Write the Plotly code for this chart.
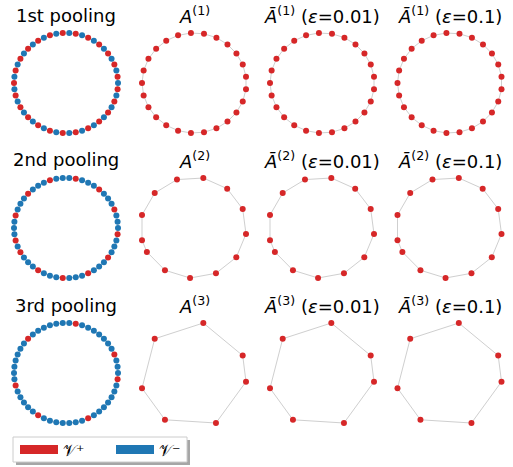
import numpy as np
import plotly.graph_objects as go

# ---------------- data ----------------
N_NODES = 50
row_titles = ["1st pooling", "2nd pooling", "3rd pooling"]
kept_nodes = [
    list(range(1, 50, 2)),                                   # level 1: 25 nodes
    [3, 7, 11, 15, 19, 23, 27, 29, 33, 37, 41, 45, 49],      # level 2: 13 nodes
    [3, 11, 19, 27, 33, 41, 49],                             # level 3: 7 nodes
]
col_titles = [
    "<i>A</i><sup>({k})</sup>",
    "<i>Ā</i><sup>({k})</sup> (<i>ε</i>=0.01)",
    "<i>Ā</i><sup>({k})</sup> (<i>ε</i>=0.1)",
]
legend_labels = ["𝒱⁺", "𝒱⁻"]

RED = "#d62728"
BLUE = "#1f77b4"
EDGE = "#cfcfcf"

W, H = 513, 467
col_cx = [66, 194, 322, 449.5]
row_cy = [83, 228, 373]
DOM_W, DOM_H = 124, 118      # axis box in px
SPAN_W, SPAN_H = 104, 100    # px spanned by node extents

ang = 2 * np.pi * np.arange(N_NODES) / N_NODES
pos_x = np.cos(ang)
pos_y = np.sin(ang)

fig = go.Figure()
annotations = []
shapes = []
axis_id = 0


def add_panel(xs, ys, colors, cx, cy):
    global axis_id
    axis_id += 1
    sfx = "" if axis_id == 1 else str(axis_id)
    xa, ya = "x" + sfx, "y" + sfx
    ex, ey = [], []
    n = len(xs)
    for i in range(n):
        j = (i + 1) % n
        ex += [xs[i], xs[j], None]
        ey += [ys[i], ys[j], None]
    fig.add_trace(go.Scatter(x=ex, y=ey, mode="lines", line=dict(color=EDGE, width=1),
                             hoverinfo="skip", showlegend=False, xaxis=xa, yaxis=ya))
    fig.add_trace(go.Scatter(x=xs, y=ys, mode="markers",
                             marker=dict(color=colors, size=6, line=dict(width=0)),
                             showlegend=False, xaxis=xa, yaxis=ya))
    xmin, xmax = float(np.min(xs)), float(np.max(xs))
    ymin, ymax = float(np.min(ys)), float(np.max(ys))
    xc, yc = (xmin + xmax) / 2, (ymin + ymax) / 2
    hx = (xmax - xmin) / 2 * DOM_W / SPAN_W
    hy = (ymax - ymin) / 2 * DOM_H / SPAN_H
    common = dict(visible=False, showgrid=False, zeroline=False, fixedrange=True)
    fig.update_layout(**{
        ("xaxis" + sfx): dict(domain=[(cx - DOM_W / 2) / W, (cx + DOM_W / 2) / W],
                              range=[xc - hx, xc + hx], anchor=ya, **common),
        ("yaxis" + sfx): dict(domain=[1 - (cy + DOM_H / 2) / H, 1 - (cy - DOM_H / 2) / H],
                              range=[yc - hy, yc + hy], anchor=xa, **common),
    })


for r in range(3):
    kept = set(kept_nodes[r])
    colors = [RED if i in kept else BLUE for i in range(N_NODES)]
    add_panel(pos_x, pos_y, colors, col_cx[0], row_cy[r])
    annotations.append(dict(text=row_titles[r], x=col_cx[0] / W, y=1 - (row_cy[r] - 68) / H,
                            xref="paper", yref="paper", showarrow=False,
                            xanchor="center", yanchor="middle",
                            font=dict(size=18, color="black")))
    kx = pos_x[kept_nodes[r]]
    ky = pos_y[kept_nodes[r]]
    for c in range(3):
        add_panel(kx, ky, [RED] * len(kx), col_cx[c + 1], row_cy[r])
        annotations.append(dict(text=col_titles[c].format(k=r + 1), x=col_cx[c + 1] / W,
                                y=1 - (row_cy[r] - 68) / H,
                                xref="paper", yref="paper", showarrow=False,
                                xanchor="center", yanchor="middle",
                                font=dict(size=18, color="black")))

# legend entries
for lab, col in zip(legend_labels, [RED, BLUE]):
    fig.add_trace(go.Scatter(x=[None], y=[None], mode="lines", name=lab,
                             line=dict(color=col, width=9), xaxis="x", yaxis="y"))

# legend frame + shadow
lx0, lx1, ly0, ly1 = 13, 187, 437, 462
shapes.append(dict(type="rect", xref="paper", yref="paper",
                   x0=(lx0 + 3) / W, x1=(lx1 + 3) / W, y0=1 - (ly1 + 3) / H, y1=1 - (ly0 + 3) / H,
                   fillcolor="rgba(0,0,0,0.35)", line=dict(width=0), layer="above"))
shapes.append(dict(type="rect", xref="paper", yref="paper",
                   x0=lx0 / W, x1=lx1 / W, y0=1 - ly1 / H, y1=1 - ly0 / H,
                   fillcolor="white", line=dict(color="#cccccc", width=1), layer="above"))

fig.update_layout(
    width=W, height=H, margin=dict(l=0, r=0, t=0, b=0),
    paper_bgcolor="white", plot_bgcolor="white",
    font=dict(family="DejaVu Sans", color="black"),
    annotations=annotations, shapes=shapes,
    showlegend=True,
    legend=dict(orientation="h", x=(lx0 + 2) / W, y=1 - ((ly0 + ly1) / 2) / H,
                xanchor="left", yanchor="middle", bgcolor="rgba(0,0,0,0)",
                borderwidth=0, font=dict(size=16), itemwidth=38,
                entrywidth=43, entrywidthmode="pixels",
                tracegroupgap=0),
)

fig.write_html("out.html")
